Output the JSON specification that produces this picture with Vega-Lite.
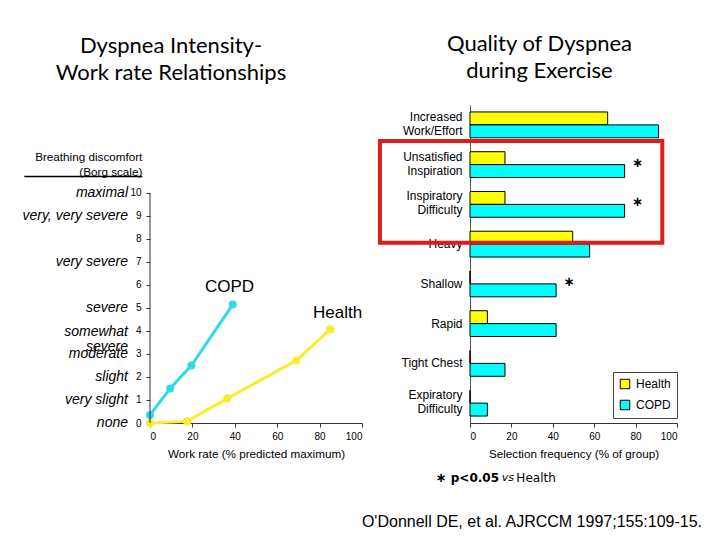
{
  "$schema": "https://vega.github.io/schema/vega-lite/v6.json",
  "background": "white",
  "padding": {"left": 22, "top": 33, "right": 5, "bottom": 5},
  "spacing": -2,
  "config": {
    "view": {"stroke": null},
    "font": "Liberation Sans",
    "title": {"font": "Lato", "fontSize": 22, "fontWeight": "normal", "color": "#000", "lineHeight": 27},
    "axis": {"labelFont": "Liberation Sans", "labelColor": "#000", "titleFont": "Liberation Sans", "titleColor": "#000", "titleFontWeight": "normal", "grid": false, "domainColor": "#333", "tickColor": "#333", "labelOverlap": false},
    "axisY": {"labelOverlap": false},
    "axisQuantitative": {"labelOverlap": false}
  },
  "resolve": {"scale": {"color": "independent"}},
  "hconcat": [
    {
      "width": 212,
      "height": 318,
      "title": {"text": ["Dyspnea Intensity-", "Work rate Relationships"], "anchor": "middle", "frame": "group", "dx": -85, "offset": 20},
      "layer": [
        {
          "data": {"values": [
            {"group": "COPD", "work": 0, "borg": 0.35},
            {"group": "COPD", "work": 9.5, "borg": 1.5},
            {"group": "COPD", "work": 19.5, "borg": 2.5},
            {"group": "COPD", "work": 39, "borg": 5.15},
            {"group": "Health", "work": 0, "borg": 0},
            {"group": "Health", "work": 17.5, "borg": 0.07},
            {"group": "Health", "work": 36.5, "borg": 1.07},
            {"group": "Health", "work": 69, "borg": 2.72},
            {"group": "Health", "work": 85, "borg": 4.07}
          ]},
          "mark": {"type": "line", "strokeWidth": 3, "point": {"filled": true, "size": 65, "opacity": 1}},
          "encoding": {
            "x": {"field": "work", "type": "quantitative", "scale": {"domain": [0, 100]},
              "axis": {"values": [0, 20, 40, 60, 80, 100], "title": "Work rate (% predicted maximum)", "labelFontSize": 10, "titleFontSize": 11.7, "tickSize": 4, "labelPadding": 4, "titlePadding": 7}},
            "y": {"field": "borg", "type": "quantitative", "scale": {"domain": [0, 13.826], "nice": false},
              "axis": {"values": [0, 1, 2, 3, 4, 5, 6, 7, 8, 9, 10], "title": null, "domain": false, "labelOverlap": false, "labelFontSize": 10, "tickSize": 4, "labelPadding": 5}},
            "color": {"field": "group", "type": "nominal", "scale": {"domain": ["Health", "COPD"], "range": ["#F7EE2D", "#33D9E8"]}, "legend": null}
          }
        },
        {
          "data": {"values": [{}]},
          "mark": {"type": "rule", "strokeWidth": 1, "color": "#333"},
          "encoding": {
            "x": {"datum": 0, "type": "quantitative", "scale": {"domain": [0, 100]}},
            "y": {"datum": 0, "type": "quantitative", "scale": {"domain": [0, 13.826], "nice": false},
              "axis": {"values": [0, 1, 2, 3, 4, 5, 6, 7, 8, 9, 10], "title": null, "domain": false, "labelOverlap": false, "labelFontSize": 10, "tickSize": 4, "labelPadding": 5}},
            "y2": {"datum": 10}
          }
        },
        {
          "data": {"values": [
            {"borg": 10, "descriptor": "maximal"},
            {"borg": 9, "descriptor": "very, very severe"},
            {"borg": 7, "descriptor": "very severe"},
            {"borg": 5, "descriptor": "severe"},
            {"borg": 3, "descriptor": "moderate"},
            {"borg": 2, "descriptor": "slight"},
            {"borg": 1, "descriptor": "very slight"},
            {"borg": 0, "descriptor": "none"}
          ]},
          "mark": {"type": "text", "align": "right", "baseline": "middle", "dx": -22, "fontSize": 14, "fontStyle": "italic", "font": "Liberation Sans", "color": "#000"},
          "encoding": {
            "x": {"datum": 0, "type": "quantitative", "scale": {"domain": [0, 100]}},
            "y": {"field": "borg", "type": "quantitative", "scale": {"domain": [0, 13.826], "nice": false},
              "axis": {"values": [0, 1, 2, 3, 4, 5, 6, 7, 8, 9, 10], "title": null, "domain": false, "labelOverlap": false, "labelFontSize": 10, "tickSize": 4, "labelPadding": 5}},
            "text": {"field": "descriptor"}
          }
        },
        {
          "data": {"values": [{"borg": 4, "descriptor": ["somewhat", "severe"]}]},
          "mark": {"type": "text", "align": "right", "baseline": "alphabetic", "dx": -22, "dy": 5, "lineHeight": 15, "fontSize": 14, "fontStyle": "italic", "font": "Liberation Sans", "color": "#000"},
          "encoding": {
            "x": {"datum": 0, "type": "quantitative", "scale": {"domain": [0, 100]}},
            "y": {"field": "borg", "type": "quantitative", "scale": {"domain": [0, 13.826], "nice": false},
              "axis": {"values": [0, 1, 2, 3, 4, 5, 6, 7, 8, 9, 10], "title": null, "domain": false, "labelOverlap": false, "labelFontSize": 10, "tickSize": 4, "labelPadding": 5}},
            "text": {"field": "descriptor"}
          }
        },
        {
          "data": {"values": [{}]},
          "mark": {"type": "text", "text": "COPD", "fontSize": 17, "align": "center", "baseline": "middle", "color": "#000"},
          "encoding": {
            "x": {"datum": 37.5, "type": "quantitative", "scale": {"domain": [0, 100]}},
            "y": {"datum": 5.93, "type": "quantitative", "scale": {"domain": [0, 13.826], "nice": false},
              "axis": {"values": [0, 1, 2, 3, 4, 5, 6, 7, 8, 9, 10], "title": null, "domain": false, "labelOverlap": false, "labelFontSize": 10, "tickSize": 4, "labelPadding": 5}}
          }
        },
        {
          "data": {"values": [{}]},
          "mark": {"type": "text", "text": "Health", "fontSize": 17, "align": "center", "baseline": "middle", "color": "#000"},
          "encoding": {
            "x": {"datum": 88.5, "type": "quantitative", "scale": {"domain": [0, 100]}},
            "y": {"datum": 4.8, "type": "quantitative", "scale": {"domain": [0, 13.826], "nice": false},
              "axis": {"values": [0, 1, 2, 3, 4, 5, 6, 7, 8, 9, 10], "title": null, "domain": false, "labelOverlap": false, "labelFontSize": 10, "tickSize": 4, "labelPadding": 5}}
          }
        },
        {
          "data": {"values": [{}]},
          "mark": {"type": "text", "text": ["Breathing discomfort", "(Borg scale)"], "fontSize": 11.7, "align": "right", "baseline": "alphabetic", "lineHeight": 14.5, "color": "#000"},
          "encoding": {
            "x": {"datum": -3.6, "type": "quantitative", "scale": {"domain": [0, 100]}},
            "y": {"datum": 11.39, "type": "quantitative", "scale": {"domain": [0, 13.826], "nice": false},
              "axis": {"values": [0, 1, 2, 3, 4, 5, 6, 7, 8, 9, 10], "title": null, "domain": false, "labelOverlap": false, "labelFontSize": 10, "tickSize": 4, "labelPadding": 5}}
          }
        },
        {
          "data": {"values": [{}]},
          "mark": {"type": "rule", "strokeWidth": 1.5, "color": "#000"},
          "encoding": {
            "x": {"datum": -59.3, "type": "quantitative", "scale": {"domain": [0, 100]}},
            "x2": {"datum": -3.6},
            "y": {"datum": 10.72, "type": "quantitative", "scale": {"domain": [0, 13.826], "nice": false},
              "axis": {"values": [0, 1, 2, 3, 4, 5, 6, 7, 8, 9, 10], "title": null, "domain": false, "labelOverlap": false, "labelFontSize": 10, "tickSize": 4, "labelPadding": 5}}
          }
        }
      ]
    },
    {
      "width": 207,
      "height": 318,
      "title": {"text": ["Quality of Dyspnea", "during Exercise"], "anchor": "middle", "frame": "group", "dx": -34, "offset": 22},
      "layer": [
        {
          "data": {"values": [
            {"quality": "Increased Work/Effort", "group": "Health", "pct": 66.5},
            {"quality": "Increased Work/Effort", "group": "COPD", "pct": 91.1},
            {"quality": "Unsatisfied Inspiration", "group": "Health", "pct": 16.9},
            {"quality": "Unsatisfied Inspiration", "group": "COPD", "pct": 74.7, "sig": true},
            {"quality": "Inspiratory Difficulty", "group": "Health", "pct": 16.9},
            {"quality": "Inspiratory Difficulty", "group": "COPD", "pct": 74.7, "sig": true},
            {"quality": "Heavy", "group": "Health", "pct": 49.6},
            {"quality": "Heavy", "group": "COPD", "pct": 57.8},
            {"quality": "Shallow", "group": "Health", "pct": 0},
            {"quality": "Shallow", "group": "COPD", "pct": 41.6, "sig": true},
            {"quality": "Rapid", "group": "Health", "pct": 8.4},
            {"quality": "Rapid", "group": "COPD", "pct": 41.6},
            {"quality": "Tight Chest", "group": "Health", "pct": 0},
            {"quality": "Tight Chest", "group": "COPD", "pct": 16.9},
            {"quality": "Expiratory Difficulty", "group": "Health", "pct": 0},
            {"quality": "Expiratory Difficulty", "group": "COPD", "pct": 8.4}
          ]},
          "layer": [
            {
              "mark": {"type": "bar", "stroke": "#000", "strokeWidth": 1},
              "encoding": {
                "y": {"field": "quality", "type": "nominal",
                  "sort": ["Increased Work/Effort", "Unsatisfied Inspiration", "Inspiratory Difficulty", "Heavy", "Shallow", "Rapid", "Tight Chest", "Expiratory Difficulty"],
                  "scale": {"paddingInner": 0.35, "paddingOuter": 0.175},
                  "axis": {"title": null, "ticks": false, "labelFontSize": 12, "labelLineHeight": 14, "labelPadding": 8, "labelLimit": 200, "domainColor": "#555",
                    "labelBaseline": {"condition": {"test": "datum.value != 'Tight Chest' && indexof(datum.value, ' ') > 0", "value": "line-bottom"}, "value": "middle"},
                    "labelExpr": "datum.value == 'Tight Chest' ? datum.value : split(datum.value, ' ')"}},
                "x": {"field": "pct", "type": "quantitative", "scale": {"domain": [0, 100]},
                  "axis": {"values": [0, 20, 40, 60, 80, 100], "title": "Selection frequency (% of group)", "labelFontSize": 10, "titleFontSize": 11.7, "tickSize": 4, "labelPadding": 4, "titlePadding": 7}},
                "yOffset": {"field": "group", "sort": ["Health", "COPD"]},
                "color": {"field": "group", "type": "nominal", "scale": {"domain": ["Health", "COPD"], "range": ["#FFFF00", "#00FFFF"]},
                  "legend": {"orient": "none", "legendX": 143, "legendY": 267, "title": null, "symbolType": "square", "symbolSize": 90, "symbolStrokeColor": "#000", "symbolStrokeWidth": 1, "labelFontSize": 12, "labelFont": "Liberation Sans", "labelColor": "#000", "strokeColor": "#444", "fillColor": "white", "padding": 6, "rowPadding": 7, "labelOffset": 5}}
              }
            },
            {
              "transform": [{"filter": "datum.sig"}],
              "mark": {"type": "text", "text": "∗", "dx": 13, "dy": -2, "font": "DejaVu Sans", "fontSize": 13, "fontWeight": "bold", "color": "#000", "baseline": "middle", "align": "center"},
              "encoding": {
                "y": {"field": "quality", "type": "nominal", "sort": ["Increased Work/Effort", "Unsatisfied Inspiration", "Inspiratory Difficulty", "Heavy", "Shallow", "Rapid", "Tight Chest", "Expiratory Difficulty"]},
                "x": {"field": "pct", "type": "quantitative"}
              }
            }
          ]
        },
        {
          "data": {"values": [{}]},
          "layer": [
            {
              "mark": {"type": "rect", "fill": "transparent", "stroke": "#E01B1B", "strokeWidth": 4},
              "encoding": {
                "x": {"datum": -43.5, "type": "quantitative", "scale": {"domain": [0, 100]}},
                "x2": {"datum": 92.9},
                "y": {"datum": 0.906, "type": "quantitative", "scale": {"domain": [0, 8], "reverse": true}, "axis": null},
                "y2": {"datum": 3.464}
              }
            },
            {
              "mark": {"type": "text", "text": "∗", "align": "left", "baseline": "middle", "font": "DejaVu Sans", "fontSize": 13, "fontWeight": "bold", "color": "#000"},
              "encoding": {
                "x": {"datum": -16.5, "type": "quantitative", "scale": {"domain": [0, 100]}},
                "y": {"datum": 9.38, "type": "quantitative", "scale": {"domain": [0, 8], "reverse": true}, "axis": null}
              }
            },
            {
              "mark": {"type": "text", "text": "p<0.05", "align": "left", "baseline": "middle", "font": "DejaVu Sans", "fontSize": 12, "fontWeight": "bold", "color": "#000"},
              "encoding": {
                "x": {"datum": -9.3, "type": "quantitative", "scale": {"domain": [0, 100]}},
                "y": {"datum": 9.38, "type": "quantitative", "scale": {"domain": [0, 8], "reverse": true}, "axis": null}
              }
            },
            {
              "mark": {"type": "text", "text": "vs", "align": "left", "baseline": "middle", "font": "DejaVu Sans", "fontSize": 11, "fontStyle": "italic", "color": "#000"},
              "encoding": {
                "x": {"datum": 15.3, "type": "quantitative", "scale": {"domain": [0, 100]}},
                "y": {"datum": 9.38, "type": "quantitative", "scale": {"domain": [0, 8], "reverse": true}, "axis": null}
              }
            },
            {
              "mark": {"type": "text", "text": "Health", "align": "left", "baseline": "middle", "font": "DejaVu Sans", "fontSize": 12, "color": "#000"},
              "encoding": {
                "x": {"datum": 22.4, "type": "quantitative", "scale": {"domain": [0, 100]}},
                "y": {"datum": 9.38, "type": "quantitative", "scale": {"domain": [0, 8], "reverse": true}, "axis": null}
              }
            },
            {
              "mark": {"type": "text", "text": "O'Donnell DE, et al. AJRCCM 1997;155:109-15.", "align": "right", "baseline": "middle", "font": "Liberation Sans", "fontSize": 16, "color": "#000"},
              "encoding": {
                "x": {"datum": 112.1, "type": "quantitative", "scale": {"domain": [0, 100]}},
                "y": {"datum": 10.5, "type": "quantitative", "scale": {"domain": [0, 8], "reverse": true}, "axis": null}
              }
            }
          ]
        }
      ],
      "resolve": {"scale": {"y": "independent"}}
    }
  ]
}
